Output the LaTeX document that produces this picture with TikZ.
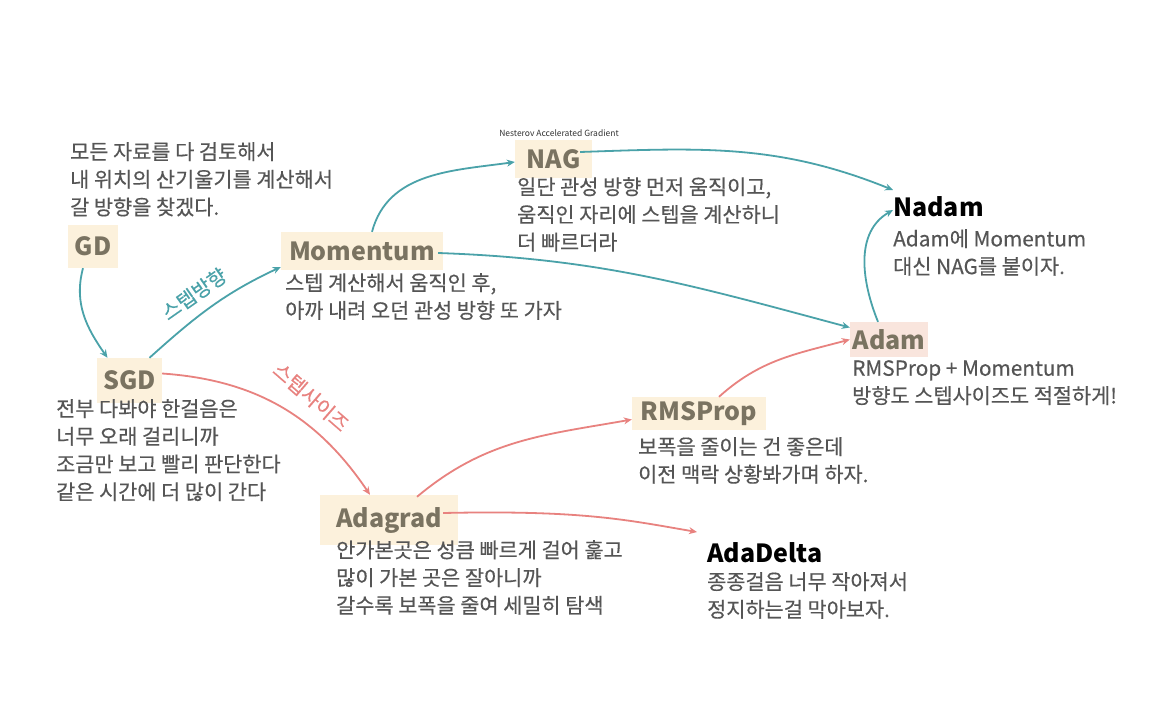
\documentclass[tikz,border=0pt]{standalone}
\usepackage{fontspec}
\setmainfont{Noto Sans CJK KR}
\newfontfamily\bodyfont[FakeBold=0.35]{Noto Sans CJK KR}
\usetikzlibrary{arrows.meta}
\definecolor{teal1}{HTML}{4AA2A9}
\definecolor{red1}{HTML}{E8827F}
\definecolor{hl}{HTML}{FCF1DC}
\definecolor{hlpink}{HTML}{F9E5DD}
\definecolor{ttl}{HTML}{7A7361}
\definecolor{bodyc}{HTML}{555555}
\tikzset{
  x=1pt, y=-1pt,
  ttlbox/.style={font=\fontsize{25}{28}\selectfont\bfseries, text=ttl, fill=hl, inner sep=0pt},
  ttlplain/.style={font=\fontsize{25}{28}\selectfont\bfseries, text=black, inner sep=0pt, anchor=west},
  bodytext/.style={font=\bodyfont\fontsize{20.8}{27.7}\selectfont, text=bodyc, align=left, anchor=north west, inner sep=0pt},
  tarrow/.style={draw=teal1, line width=1.8pt, -{Stealth[length=8pt,width=7pt]}},
  rarrow/.style={draw=red1, line width=1.8pt, -{Stealth[length=8pt,width=7pt]}},
  tlabel/.style={font=\bodyfont\fontsize{20}{22}\selectfont, text=teal1, inner sep=0pt},
  rlabel/.style={font=\bodyfont\fontsize{20}{22}\selectfont, text=red1, inner sep=0pt},
}
\begin{document}
\begin{tikzpicture}
\useasboundingbox[fill=white] (0,0) rectangle (1162,715);

% title boxes
\node[ttlbox, minimum width=50pt, minimum height=43pt] (gd) at (93,246.5) {GD};
\node[ttlbox, minimum width=65pt, minimum height=45pt] (sgd) at (129.5,380.5) {SGD};
\node[ttlbox, minimum width=162pt, minimum height=38pt] (mom) at (362,251) {Momentum};
\node[ttlbox, minimum width=77pt, minimum height=38pt] (nag) at (553.5,159) {NAG};
\node[ttlbox, fill=hlpink, minimum width=78pt, minimum height=35pt] (adam) at (889,339.5) {Adam};
\node[ttlbox, minimum width=134pt, minimum height=33pt] (rms) at (699,413.5) {RMSProp};
\node[ttlbox, minimum width=138pt, minimum height=50pt] (adagrad) at (389,520) {Adagrad};
\node[ttlplain] (nadam) at (893,207) {Nadam};
\node[ttlplain] (adadelta) at (707,553) {AdaDelta};
\node[font=\fontsize{8.5}{9}\selectfont, text=black!80, inner sep=0pt] (nesterov) at (559,133) {Nesterov Accelerated Gradient};

% body texts
\node[bodytext] (gdtxt) at (70,142) {모든 자료를 다 검토해서\\내 위치의 산기울기를 계산해서\\갈 방향을 찾겠다.};
\node[bodytext] (momtxt) at (285,273) {스텝 계산해서 움직인 후,\\아까 내려 오던 관성 방향 또 가자};
\node[bodytext] (nagtxt) at (517,177) {일단 관성 방향 먼저 움직이고,\\움직인 자리에 스텝을 계산하니\\더 빠르더라};
\node[bodytext] (nadamtxt) at (893,229) {Adam에 Momentum\\대신 NAG를 붙이자.};
\node[bodytext] (adamtxt) at (852,360) {RMSProp + Momentum\\방향도 스텝사이즈도 적절하게!};
\node[bodytext] (sgdtxt) at (56,399) {전부 다봐야 한걸음은\\너무 오래 걸리니까\\조금만 보고 빨리 판단한다\\같은 시간에 더 많이 간다};
\node[bodytext] (rmstxt) at (638,437) {보폭을 줄이는 건 좋은데\\이전 맥락 상황봐가며 하자.};
\node[bodytext] (adagradtxt) at (336,540) {안가본곳은 성큼 빠르게 걸어 훑고\\많이 가본 곳은 잘아니까\\갈수록 보폭을 줄여 세밀히 탐색};
\node[bodytext] (adadeltatxt) at (707,572) {종종걸음 너무 작아져서\\정지하는걸 막아보자.};

% teal connectors
\draw[tarrow] ([xshift=-10pt]gd.south) to[out=-105,in=125] ([xshift=-22pt]sgd.north);
\draw[tarrow] ([xshift=20pt]sgd.north) to[out=42,in=205] ([yshift=-16pt]mom.west);
\draw[tarrow] ([xshift=10pt]mom.north) to[out=75,in=188] ([yshift=-3pt]nag.west);
\draw[tarrow] ([xshift=-12pt,yshift=7pt]nag.east) to[out=2,in=158] ([yshift=17pt]nadam.west);
\draw[tarrow] ([xshift=-5pt,yshift=-2pt]mom.east) to[out=-2,in=165] ([yshift=12pt]adam.west);
\draw[tarrow] ([xshift=-11pt]adam.north) to[out=112,in=210] ([yshift=-3pt]nadam.west);

% red connectors
\draw[rarrow] ([yshift=7pt]sgd.east) to[out=-4,in=124] ([xshift=-19pt]adagrad.north);
\draw[rarrow] ([xshift=28pt,yshift=-2pt]adagrad.north) to[out=40,in=190] ([yshift=-6pt]rms.west);
\draw[rarrow] ([xshift=20pt]rms.north) to[out=42,in=195] (adam.west);
\draw[rarrow] ([xshift=-15pt,yshift=7pt]adagrad.east) .. controls +(140,-3) and +(-70,-12) .. ([xshift=-10pt,yshift=21pt]adadelta.west);

% connector labels
\node[tlabel, rotate=35] (lbl1) at (194,294) {스텝방향};
\node[rlabel, rotate=-41] (lbl2) at (311,397) {스텝사이즈};
\end{tikzpicture}
\end{document}
